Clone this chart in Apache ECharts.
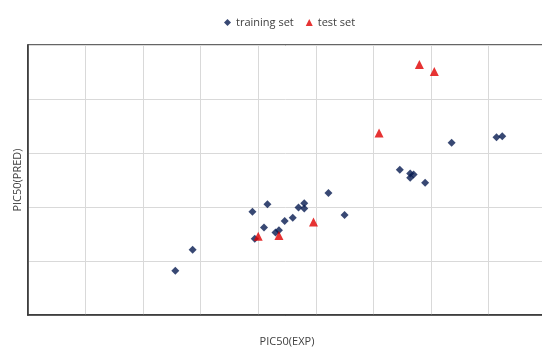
<!DOCTYPE html>
<html>
<head>
<meta charset="utf-8">
<script src="https://cdn.jsdelivr.net/npm/echarts@6/dist/echarts.min.js"></script>
<style>html,body{margin:0;padding:0;background:#fff}#c{width:542px;height:349px}</style>
</head>
<body>
<div id="c"></div>
<script>
const seriesNames = ['training set', 'test set'];
const trainingSet = [
  [5.28,4.82],[5.43,5.21],[5.95,5.91],[6.08,6.05],[6.05,5.62],[5.97,5.41],
  [6.15,5.53],[6.18,5.57],[6.23,5.74],[6.30,5.80],[6.35,5.99],[6.40,6.07],
  [6.40,5.97],[6.61,6.26],[6.75,5.85],[7.23,6.69],[7.32,6.62],[7.35,6.60],
  [7.32,6.54],[7.45,6.45],[7.68,7.19],[8.07,7.29],[8.12,7.31]
];
const testSet = [
  [6.00,5.46],[6.18,5.47],[6.48,5.72],[7.05,7.37],[7.40,8.64],[7.53,8.51]
];
const xTitle = 'PIC50(EXP)';
const yTitle = 'PIC50(PRED)';

const chart = echarts.init(document.getElementById('c'), null, {renderer: 'canvas'});
const font = '"Open Sans", "Noto Sans", sans-serif';
chart.setOption({
  animation: false,
  backgroundColor: '#fff',
  textStyle: {fontFamily: font},
  legend: {
    top: 12, left: 219,
    itemWidth: 7, itemHeight: 7, itemGap: 12,
    textStyle: {color: '#404040', fontSize: 11, fontFamily: font},
    data: [{name: seriesNames[0], icon: 'diamond'}, {name: seriesNames[1], icon: 'triangle'}]
  },
  grid: {left: 28, top: 45, right: -4, bottom: 34, show: true, borderColor: '#333', borderWidth: 1.5,
         outerBoundsMode: 'none', containLabel: false},
  xAxis: {
    type: 'value', min: 4, max: 8.5, interval: 0.5,
    name: xTitle, nameLocation: 'middle', nameGap: 21,
    nameTextStyle: {color: '#404040', fontSize: 11, fontFamily: font},
    axisLine: {show: true, lineStyle: {color: '#333', width: 1.5}},
    axisTick: {show: false}, axisLabel: {show: false},
    splitLine: {show: true, lineStyle: {color: '#d9d9d9', width: 1}}
  },
  yAxis: {
    type: 'value', min: 4, max: 9, interval: 1,
    name: yTitle, nameLocation: 'middle', nameGap: 5,
    nameTextStyle: {color: '#404040', fontSize: 11, fontFamily: font},
    axisLine: {show: true, lineStyle: {color: '#333', width: 1.5}},
    axisTick: {show: false}, axisLabel: {show: false},
    splitLine: {show: true, lineStyle: {color: '#d9d9d9', width: 1}}
  },
  series: [
    {name: seriesNames[0], type: 'scatter', symbol: 'diamond', symbolSize: 8,
     itemStyle: {color: '#061a50'}, data: trainingSet},
    {name: seriesNames[1], type: 'scatter', symbol: 'triangle', symbolSize: 9,
     itemStyle: {color: '#e00000'}, data: testSet}
  ]
});
</script>
</body>
</html>
